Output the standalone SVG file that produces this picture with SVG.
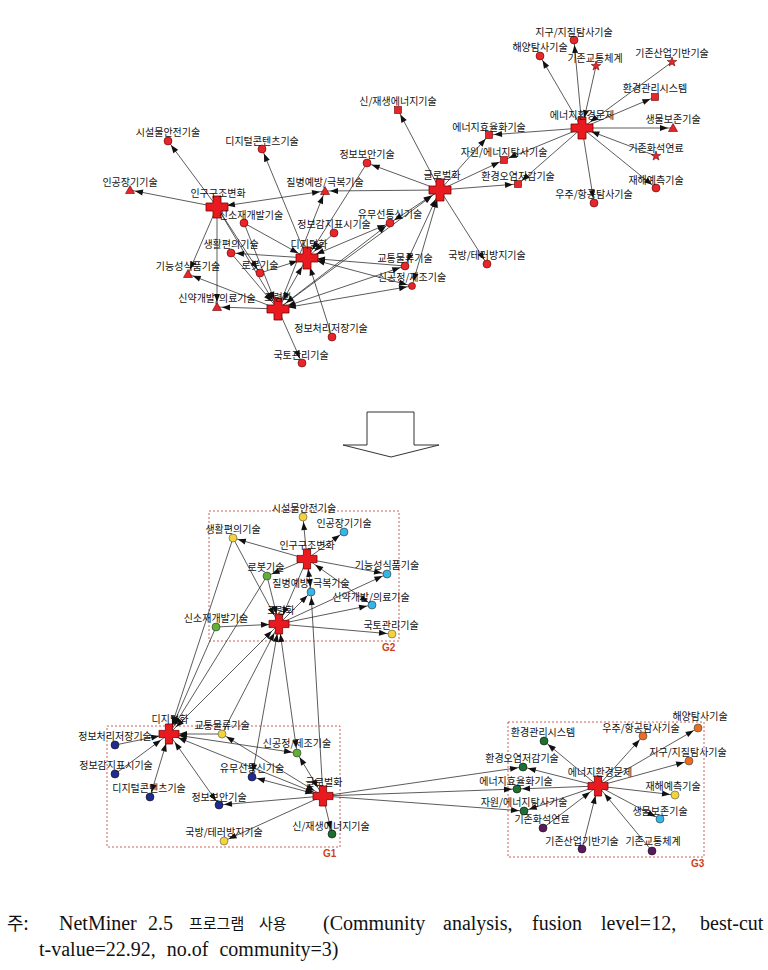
<svg xmlns="http://www.w3.org/2000/svg" xmlns:xlink="http://www.w3.org/1999/xlink" width="768" height="970" viewBox="0 0 768 970">
<style>
.lb{font-family:"Noto Sans CJK KR","DejaVu Sans",sans-serif;font-size:10px;fill:#111;text-anchor:middle}
.cn line{stroke:#262626;stroke-width:0.75;fill:none}
.tn{marker-end:url(#an)}
.th{marker-end:url(#ah)}
.fn{marker-start:url(#an)}
.fh{marker-start:url(#ah)}
.hub{fill:#e8191f;stroke:#7a0000;stroke-width:0.8}
.rn{fill:#e5262a;stroke:#6a0000;stroke-width:0.6}
.box{fill:none;stroke:#c0392b;stroke-width:0.8;stroke-dasharray:2 2}
.gl{font-family:"Liberation Sans",Arial,sans-serif;font-size:10px;font-weight:bold;fill:#d2401a}
.Y{fill:#f2d33a;stroke:#555;stroke-width:0.6}
.B{fill:#1f2b8f;stroke:#111;stroke-width:0.6}
.C{fill:#35b5e8;stroke:#333;stroke-width:0.6}
.G{fill:#5fb035;stroke:#333;stroke-width:0.6}
.D{fill:#1d7030;stroke:#111;stroke-width:0.6}
.O{fill:#ea6d22;stroke:#444;stroke-width:0.6}
.P{fill:#5a1a5e;stroke:#111;stroke-width:0.6}
.fn1{font-family:"Liberation Serif","Noto Sans CJK KR",serif;font-size:20px;fill:#111}
.fk{font-family:"Noto Sans CJK KR","Liberation Serif",sans-serif;font-size:15px;fill:#111}
</style>
<defs>
<marker id="an" viewBox="0 0 8 6" refX="13" refY="3" markerWidth="8" markerHeight="6" markerUnits="userSpaceOnUse" orient="auto-start-reverse" overflow="visible"><path d="M0,0 L8,3 L0,6 Z" fill="#111"/></marker>
<marker id="ah" viewBox="0 0 8 6" refX="18" refY="3" markerWidth="8" markerHeight="6" markerUnits="userSpaceOnUse" orient="auto-start-reverse" overflow="visible"><path d="M0,0 L8,3 L0,6 Z" fill="#111"/></marker>
<path id="cr" d="M-4,-11H4V-4H11V4H4V11H-4V4H-11V-4H-4Z"/>
<path id="cr2" d="M-3.6,-10H3.6V-3.6H10V3.6H3.6V10H-3.6V3.6H-10V-3.6H-3.6Z"/>
<path id="tri" d="M0,-4.5L4.5,3.5H-4.5Z"/>
<rect id="sq" x="-3.5" y="-3.5" width="7" height="7"/>
<path id="st" d="M0,-5L1.18,-1.62L4.76,-1.55L1.9,0.62L2.94,4.05L0,2L-2.94,4.05L-1.9,0.62L-4.76,-1.55L-1.18,-1.62Z"/>
</defs>
<rect width="768" height="970" fill="#fff"/>

<!-- ============ TOP GRAPH CONNECTORS ============ -->
<g id="top-connectors" class="cn">
<line x1="217" y1="207" x2="168" y2="141" class="tn"/>
<line x1="217" y1="207" x2="130" y2="190" class="tn"/>
<line x1="217" y1="207" x2="325" y2="191" class="fh tn"/>
<line x1="217" y1="207" x2="188" y2="274" class="tn"/>
<line x1="217" y1="207" x2="217" y2="307" class="tn"/>
<line x1="217" y1="207" x2="278" y2="309" class="th"/>
<line x1="217" y1="207" x2="260" y2="273" class="tn"/>
<line x1="307" y1="258" x2="262" y2="149" class="tn"/>
<line x1="367" y1="163" x2="307" y2="258" class="th"/>
<line x1="244" y1="223" x2="307" y2="258" class="th"/>
<line x1="307" y1="258" x2="231" y2="253" class="tn"/>
<line x1="260" y1="273" x2="307" y2="258" class="th"/>
<line x1="334" y1="233" x2="307" y2="258" class="th"/>
<line x1="307" y1="258" x2="390" y2="223" class="fh tn"/>
<line x1="405" y1="266" x2="307" y2="258" class="th"/>
<line x1="307" y1="258" x2="412" y2="286" class="fh tn"/>
<line x1="332" y1="337" x2="307" y2="258" class="th"/>
<line x1="307" y1="258" x2="278" y2="309" class="fh th"/>
<line x1="440" y1="190" x2="398" y2="110" class="tn"/>
<line x1="440" y1="190" x2="367" y2="163" class="tn"/>
<line x1="440" y1="190" x2="325" y2="191" class="tn"/>
<line x1="440" y1="190" x2="489" y2="135" class="tn"/>
<line x1="440" y1="190" x2="504" y2="160" class="tn"/>
<line x1="440" y1="190" x2="518" y2="184" class="tn"/>
<line x1="440" y1="190" x2="487" y2="264" class="tn"/>
<line x1="440" y1="190" x2="390" y2="223" class="fh tn"/>
<line x1="440" y1="190" x2="405" y2="266" class="fh tn"/>
<line x1="440" y1="190" x2="412" y2="286" class="fh tn"/>
<line x1="278" y1="309" x2="440" y2="190" class="th"/>
<line x1="582" y1="128" x2="574" y2="40" class="tn"/>
<line x1="582" y1="128" x2="540" y2="56" class="tn"/>
<line x1="582" y1="128" x2="655" y2="97" class="tn"/>
<line x1="582" y1="128" x2="673" y2="128" class="tn"/>
<line x1="582" y1="128" x2="656" y2="188" class="tn"/>
<line x1="582" y1="128" x2="594" y2="203" class="tn"/>
<line x1="582" y1="128" x2="489" y2="135" class="tn"/>
<line x1="582" y1="128" x2="504" y2="160" class="tn"/>
<line x1="582" y1="128" x2="518" y2="184" class="tn"/>
<line x1="596" y1="66" x2="582" y2="128" class="th"/>
<line x1="672" y1="62" x2="582" y2="128" class="th"/>
<line x1="656" y1="156" x2="582" y2="128" class="th"/>
<line x1="278" y1="309" x2="188" y2="274" class="tn"/>
<line x1="278" y1="309" x2="217" y2="307" class="tn"/>
<line x1="278" y1="309" x2="302" y2="363" class="tn"/>
<line x1="231" y1="253" x2="278" y2="309" class="th"/>
<line x1="244" y1="223" x2="278" y2="309" class="th"/>
<line x1="278" y1="309" x2="405" y2="266" class="fh tn"/>
<line x1="278" y1="309" x2="412" y2="286" class="fh tn"/>
<line x1="278" y1="309" x2="325" y2="191" class="tn"/>
<line x1="278" y1="309" x2="390" y2="223" class="fh tn"/>
</g>

<!-- ============ TOP GRAPH NODES ============ -->
<g id="t-hub-ingu"><use href="#cr" x="217" y="207" class="hub"/><text class="lb" x="218" y="197">인구구조변화</text></g>
<g id="t-hub-digital"><use href="#cr" x="307" y="258" class="hub"/><text class="lb" x="309" y="248">디지털화</text></g>
<g id="t-hub-global"><use href="#cr" x="440" y="190" class="hub"/><text class="lb" x="442" y="179">글로벌화</text></g>
<g id="t-hub-aging"><use href="#cr" x="278" y="309" class="hub"/><text class="lb" x="278" y="301">고령화</text></g>
<g id="t-hub-energy"><use href="#cr" x="582" y="128" class="hub"/><text class="lb" x="582" y="119">에너지환경문제</text></g>

<g id="t-n1"><use href="#sq" x="398" y="110" class="rn"/><text class="lb" x="398" y="105">신/재생에너지기술</text></g>
<g id="t-n2"><circle cx="168" cy="141" r="4" class="rn"/><text class="lb" x="168" y="136">시설물안전기술</text></g>
<g id="t-n3"><circle cx="262" cy="149" r="4" class="rn"/><text class="lb" x="262" y="145">디지털콘텐츠기술</text></g>
<g id="t-n4"><circle cx="367" cy="163" r="4" class="rn"/><text class="lb" x="367" y="158">정보보안기술</text></g>
<g id="t-n5"><use href="#tri" x="130" y="190" class="rn"/><text class="lb" x="130" y="186">인공장기기술</text></g>
<g id="t-n6"><use href="#tri" x="325" y="191" class="rn"/><text class="lb" x="325" y="186">질병예방/극복기술</text></g>
<g id="t-n7"><circle cx="574" cy="40" r="4" class="rn"/><text class="lb" x="574" y="36">지구/지질탐사기술</text></g>
<g id="t-n8"><circle cx="540" cy="56" r="4" class="rn"/><text class="lb" x="540" y="51">해양탐사기술</text></g>
<g id="t-n9"><use href="#st" x="596" y="66" class="rn"/><text class="lb" x="595" y="62">기존교통체계</text></g>
<g id="t-n10"><use href="#st" x="672" y="62" class="rn"/><text class="lb" x="672" y="57">기존산업기반기술</text></g>
<g id="t-n11"><use href="#sq" x="655" y="97" class="rn"/><text class="lb" x="655" y="92">환경관리시스템</text></g>
<g id="t-n12"><use href="#tri" x="673" y="128" class="rn"/><text class="lb" x="673" y="123">생물보존기술</text></g>
<g id="t-n13"><use href="#st" x="656" y="156" class="rn"/><text class="lb" x="656" y="152">기존화석연료</text></g>
<g id="t-n14"><circle cx="656" cy="188" r="4" class="rn"/><text class="lb" x="656" y="184">재해예측기술</text></g>
<g id="t-n15"><circle cx="594" cy="203" r="4" class="rn"/><text class="lb" x="594" y="198">우주/항공탐사기술</text></g>
<g id="t-n16"><use href="#sq" x="489" y="135" class="rn"/><text class="lb" x="489" y="131">에너지효율화기술</text></g>
<g id="t-n17"><use href="#sq" x="504" y="160" class="rn"/><text class="lb" x="504" y="156">자원/에너지탐사기술</text></g>
<g id="t-n18"><use href="#sq" x="518" y="184" class="rn"/><text class="lb" x="518" y="180">환경오염저감기술</text></g>
<g id="t-n19"><circle cx="244" cy="223" r="4" class="rn"/><text class="lb" x="251" y="219">신소재개발기술</text></g>
<g id="t-n20"><circle cx="334" cy="233" r="4" class="rn"/><text class="lb" x="334" y="228">정보감지표시기술</text></g>
<g id="t-n21"><circle cx="390" cy="223" r="4" class="rn"/><text class="lb" x="390" y="218">유무선통신기술</text></g>
<g id="t-n22"><circle cx="231" cy="253" r="4" class="rn"/><text class="lb" x="231" y="248">생활편의기술</text></g>
<g id="t-n23"><circle cx="260" cy="273" r="4" class="rn"/><text class="lb" x="260" y="269">로봇기술</text></g>
<g id="t-n24"><use href="#tri" x="188" y="274" class="rn"/><text class="lb" x="188" y="270">기능성식품기술</text></g>
<g id="t-n25"><circle cx="405" cy="266" r="4" class="rn"/><text class="lb" x="405" y="262">교통물류기술</text></g>
<g id="t-n26"><circle cx="412" cy="286" r="3.5" class="rn"/><text class="lb" x="412" y="281">신공정/제조기술</text></g>
<g id="t-n27"><use href="#tri" x="217" y="307" class="rn"/><text class="lb" x="217" y="302">신약개발/의료기술</text></g>
<g id="t-n28"><circle cx="332" cy="337" r="4" class="rn"/><text class="lb" x="331" y="332">정보처리저장기술</text></g>
<g id="t-n29"><circle cx="302" cy="363" r="4" class="rn"/><text class="lb" x="301" y="359">국토관리기술</text></g>
<g id="t-n30"><circle cx="487" cy="264" r="4" class="rn"/><text class="lb" x="487" y="259">국방/테러방지기술</text></g>

<!-- ============ MIDDLE ARROW ============ -->
<g id="transition-arrow"><polygon points="367,412 414,412 414,445 439,445 391,457 343,445 367,445" fill="#fff" stroke="#333" stroke-width="1"/></g>

<!-- ============ COMMUNITY BOXES ============ -->
<g id="g2-box"><rect x="209" y="511" width="190" height="130" class="box"/><text class="gl" x="382" y="651">G2</text></g>
<g id="g1-box"><rect x="107" y="726" width="233" height="121" class="box"/><text class="gl" x="323" y="857">G1</text></g>
<g id="g3-box"><rect x="508" y="722" width="196" height="135" class="box"/><text class="gl" x="691" y="867">G3</text></g>

<!-- ============ BOTTOM GRAPH CONNECTORS ============ -->
<g id="bottom-connectors" class="cn">
<line x1="307" y1="559" x2="303" y2="517" class="tn"/>
<line x1="307" y1="559" x2="344" y2="532" class="tn"/>
<line x1="307" y1="559" x2="233" y2="538" class="tn"/>
<line x1="307" y1="559" x2="267" y2="576" class="tn"/>
<line x1="307" y1="559" x2="387" y2="574" class="tn"/>
<line x1="307" y1="559" x2="311" y2="592" class="fh tn"/>
<line x1="307" y1="559" x2="372" y2="605" class="fh tn"/>
<line x1="307" y1="559" x2="279" y2="624" class="th"/>
<line x1="233" y1="538" x2="279" y2="624" class="th"/>
<line x1="267" y1="576" x2="279" y2="624" class="th"/>
<line x1="216" y1="627" x2="279" y2="624" class="th"/>
<line x1="279" y1="624" x2="392" y2="634" class="tn"/>
<line x1="279" y1="624" x2="372" y2="605" class="tn"/>
<line x1="279" y1="624" x2="387" y2="574" class="tn"/>
<line x1="279" y1="624" x2="311" y2="592" class="tn"/>
<line x1="233" y1="538" x2="169" y2="734" class="th"/>
<line x1="267" y1="576" x2="169" y2="734" class="th"/>
<line x1="216" y1="627" x2="169" y2="734" class="th"/>
<line x1="279" y1="624" x2="169" y2="734" class="fh th"/>
<line x1="222" y1="734" x2="279" y2="624" class="th"/>
<line x1="279" y1="624" x2="252" y2="777" class="fh tn"/>
<line x1="279" y1="624" x2="297" y2="753" class="fh tn"/>
<line x1="323" y1="796" x2="311" y2="592" class="tn"/>
<line x1="115" y1="745" x2="169" y2="734" class="th"/>
<line x1="115" y1="774" x2="169" y2="734" class="th"/>
<line x1="169" y1="734" x2="150" y2="797" class="fh tn"/>
<line x1="169" y1="734" x2="219" y2="805" class="fh tn"/>
<line x1="222" y1="734" x2="169" y2="734" class="th"/>
<line x1="169" y1="734" x2="297" y2="753" class="fh tn"/>
<line x1="169" y1="734" x2="323" y2="796" class="fh th"/>
<line x1="323" y1="796" x2="219" y2="805" class="tn"/>
<line x1="323" y1="796" x2="224" y2="841" class="tn"/>
<line x1="323" y1="796" x2="332" y2="834" class="tn"/>
<line x1="323" y1="796" x2="297" y2="753" class="fh tn"/>
<line x1="323" y1="796" x2="252" y2="777" class="fh tn"/>
<line x1="323" y1="796" x2="222" y2="734" class="fh tn"/>
<line x1="323" y1="796" x2="523" y2="767" class="tn"/>
<line x1="323" y1="796" x2="517" y2="789" class="tn"/>
<line x1="323" y1="796" x2="524" y2="811" class="tn"/>
<line x1="598" y1="786" x2="544" y2="741" class="tn"/>
<line x1="598" y1="786" x2="643" y2="736" class="tn"/>
<line x1="598" y1="786" x2="698" y2="728" class="tn"/>
<line x1="598" y1="786" x2="523" y2="767" class="tn"/>
<line x1="598" y1="786" x2="689" y2="761" class="tn"/>
<line x1="598" y1="786" x2="517" y2="789" class="tn"/>
<line x1="598" y1="786" x2="675" y2="795" class="tn"/>
<line x1="598" y1="786" x2="524" y2="811" class="tn"/>
<line x1="598" y1="786" x2="660" y2="819" class="tn"/>
<line x1="543" y1="828" x2="598" y2="786" class="th"/>
<line x1="582" y1="849" x2="598" y2="786" class="th"/>
<line x1="652" y1="851" x2="598" y2="786" class="th"/>
</g>

<!-- ============ BOTTOM GRAPH NODES ============ -->
<g id="b-hub-ingu"><use href="#cr2" x="307" y="559" class="hub"/><text class="lb" x="307" y="549">인구구조변화</text></g>
<g id="b-hub-aging"><use href="#cr2" x="279" y="624" class="hub"/><text class="lb" x="281" y="614">고령화</text></g>
<g id="b-hub-digital"><use href="#cr2" x="169" y="734" class="hub"/><text class="lb" x="170" y="723">디지털화</text></g>
<g id="b-hub-global"><use href="#cr2" x="323" y="796" class="hub"/><text class="lb" x="324" y="786">글로벌화</text></g>
<g id="b-hub-energy"><use href="#cr2" x="598" y="786" class="hub"/><text class="lb" x="600" y="776">에너지환경문제</text></g>

<g id="b-n1"><circle cx="303" cy="517" r="4" class="Y"/><text class="lb" x="304" y="512">시설물안전기술</text></g>
<g id="b-n2"><circle cx="344" cy="532" r="4" class="C"/><text class="lb" x="344" y="527">인공장기기술</text></g>
<g id="b-n3"><circle cx="233" cy="538" r="4" class="Y"/><text class="lb" x="233" y="533">생활편의기술</text></g>
<g id="b-n4"><circle cx="267" cy="576" r="4" class="G"/><text class="lb" x="266" y="571">로봇기술</text></g>
<g id="b-n5"><circle cx="387" cy="574" r="4" class="C"/><text class="lb" x="387" y="569">기능성식품기술</text></g>
<g id="b-n6"><circle cx="311" cy="592" r="4" class="C"/><text class="lb" x="311" y="587">질병예방/극복기술</text></g>
<g id="b-n7"><circle cx="372" cy="605" r="4" class="C"/><text class="lb" x="371" y="601">신약개발/의료기술</text></g>
<g id="b-n8"><circle cx="216" cy="627" r="4" class="G"/><text class="lb" x="216" y="622">신소재개발기술</text></g>
<g id="b-n9"><circle cx="392" cy="634" r="4" class="Y"/><text class="lb" x="391" y="629">국토관리기술</text></g>
<g id="b-n10"><circle cx="222" cy="734" r="4" class="Y"/><text class="lb" x="222" y="729">교통물류기술</text></g>
<g id="b-n11"><circle cx="115" cy="745" r="4" class="B"/><text class="lb" x="115" y="740">정보처리저장기술</text></g>
<g id="b-n12"><circle cx="115" cy="774" r="4" class="B"/><text class="lb" x="116" y="769">정보감지표시기술</text></g>
<g id="b-n13"><circle cx="150" cy="797" r="4" class="B"/><text class="lb" x="149" y="792">디지털콘텐츠기술</text></g>
<g id="b-n14"><circle cx="297" cy="753" r="4" class="G"/><text class="lb" x="297" y="747">신공정/제조기술</text></g>
<g id="b-n15"><circle cx="252" cy="777" r="4" class="B"/><text class="lb" x="252" y="772">유무선통신기술</text></g>
<g id="b-n16"><circle cx="219" cy="805" r="4" class="B"/><text class="lb" x="219" y="801">정보보안기술</text></g>
<g id="b-n17"><circle cx="224" cy="841" r="4" class="Y"/><text class="lb" x="224" y="836">국방/테러방지기술</text></g>
<g id="b-n18"><circle cx="332" cy="834" r="4" class="D"/><text class="lb" x="331" y="830">신/재생에너지기술</text></g>
<g id="b-n19"><circle cx="544" cy="741" r="4" class="D"/><text class="lb" x="543" y="736">환경관리시스템</text></g>
<g id="b-n20"><circle cx="643" cy="736" r="4" class="O"/><text class="lb" x="641" y="732">우주/항공탐사기술</text></g>
<g id="b-n21"><circle cx="698" cy="728" r="4" class="O"/><text class="lb" x="700" y="720">해양탐사기술</text></g>
<g id="b-n22"><circle cx="523" cy="767" r="4" class="D"/><text class="lb" x="522" y="762">환경오염저감기술</text></g>
<g id="b-n23"><circle cx="689" cy="761" r="4" class="O"/><text class="lb" x="688" y="756">지구/지질탐사기술</text></g>
<g id="b-n24"><circle cx="517" cy="789" r="4" class="D"/><text class="lb" x="516" y="785">에너지효율화기술</text></g>
<g id="b-n25"><circle cx="675" cy="795" r="4" class="Y"/><text class="lb" x="673" y="790">재해예측기술</text></g>
<g id="b-n26"><circle cx="524" cy="811" r="4" class="D"/><text class="lb" x="524" y="806">자원/에너지탐사기술</text></g>
<g id="b-n27"><circle cx="660" cy="819" r="4" class="C"/><text class="lb" x="660" y="815">생물보존기술</text></g>
<g id="b-n28"><circle cx="543" cy="828" r="4" class="P"/><text class="lb" x="542" y="823">기존화석연료</text></g>
<g id="b-n29"><circle cx="582" cy="849" r="4" class="P"/><text class="lb" x="582" y="845">기존산업기반기술</text></g>
<g id="b-n30"><circle cx="652" cy="851" r="4" class="P"/><text class="lb" x="653" y="845">기존교통체계</text></g>

<!-- ============ FOOTNOTE ============ -->
<g id="footnote">
<text class="fk" x="7" y="930" style="font-size:18px">주:</text>
<text class="fn1" x="59" y="930">NetMiner</text>
<text class="fn1" x="148" y="930">2.5</text>
<text class="fk" x="189" y="929">프로그램</text>
<text class="fk" x="259" y="929">사용</text>
<text class="fn1" x="323" y="930">(Community</text>
<text class="fn1" x="443" y="930">analysis,</text>
<text class="fn1" x="532" y="930">fusion</text>
<text class="fn1" x="601" y="930">level=12,</text>
<text class="fn1" x="700" y="930">best-cut</text>
<text class="fn1" x="39" y="956" word-spacing="6">t-value=22.92, no.of community=3)</text>
</g>
</svg>
